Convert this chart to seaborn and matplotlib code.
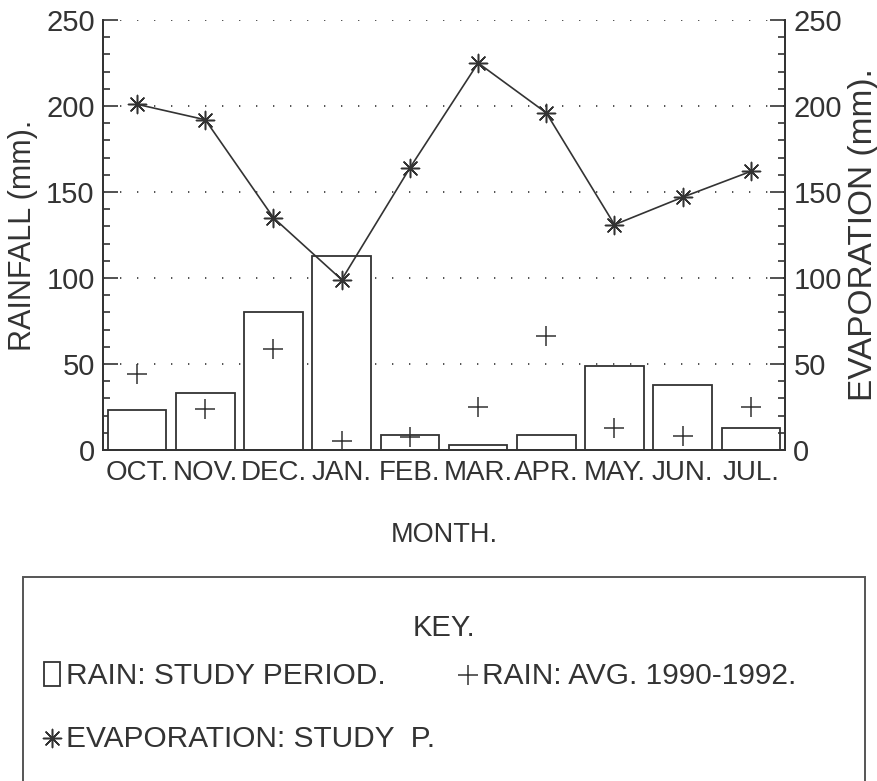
import pandas as pd
import seaborn as sns
import matplotlib.pyplot as plt
from matplotlib.ticker import MultipleLocator
from matplotlib.patches import Rectangle

# values (mm)
months = ['OCT.', 'NOV.', 'DEC.', 'JAN.', 'FEB.', 'MAR.', 'APR.', 'MAY.', 'JUN.', 'JUL.']
rain_study = [23, 33, 80, 113, 9, 3, 9, 49, 38, 13]
rain_avg = [44, 24, 59, 5, 7.5, 25, 66, 13, 8, 25]
evaporation = [201, 192, 135, 99, 164, 225, 196, 131, 147, 162]

df = pd.DataFrame({
    'month': months,
    'rain_study': rain_study,
    'rain_avg': rain_avg,
    'evaporation': evaporation,
})

sns.set_theme(style='white')
plt.rcParams['font.family'] = ['Liberation Sans', 'DejaVu Sans']
ink = '#333333'

fig = plt.figure(figsize=(8.78, 7.81), dpi=100)
ax = fig.add_axes([103 / 878, 1 - 450 / 781, 682 / 878, 430 / 781])

sns.barplot(data=df, x='month', y='rain_study', color='white', saturation=1,
            edgecolor=ink, linewidth=1.3, width=0.86, ax=ax, zorder=2)
avg_pts = sns.scatterplot(data=df, x='month', y='rain_avg', marker='+', s=210,
                          color=ink, linewidth=1.1, ax=ax, zorder=3).collections[-1]

ax2 = ax.twinx()
sns.lineplot(data=df, x='month', y='evaporation', color=ink, linewidth=1.2,
             sort=False, ax=ax2, zorder=3)
evap_pts = sns.scatterplot(data=df, x='month', y='evaporation', marker=(8, 2, 0),
                           s=170, color=ink, linewidth=1.1, ax=ax2,
                           zorder=4).collections[-1]

for a in (ax, ax2):
    a.set_ylim(0, 250)
    a.yaxis.set_major_locator(MultipleLocator(50))
    a.yaxis.set_minor_locator(MultipleLocator(10))
    a.tick_params(axis='y', which='major', direction='in', length=11, width=1.2,
                  labelsize=21, pad=6, color=ink, labelcolor=ink)
    a.tick_params(axis='y', which='minor', direction='in', length=5, width=1.2,
                  color=ink)
    a.spines['top'].set_visible(False)
    for s in a.spines.values():
        s.set_color(ink)
        s.set_linewidth(1.3)
ax.set_xlim(-0.5, 9.5)
ax.tick_params(axis='x', direction='in', length=5, width=1.2, labelsize=20,
               pad=7, color=ink, labelcolor=ink)

ax.yaxis.grid(True, which='major', linestyle=(0, (0.8, 9.4)), linewidth=1.2,
              color=ink)
ax.set_axisbelow(True)

ax.set_xlabel('MONTH.', fontsize=19.5, color=ink, labelpad=26)
ax.set_ylabel('RAINFALL (mm).', fontsize=22, color=ink, labelpad=6)
ax2.set_ylabel('EVAPORATION (mm).', fontsize=24, color=ink, labelpad=4)

# key box below the chart
fig.patches.append(Rectangle((23 / 878, -0.05), 842 / 878, 0.05 + 1 - 577 / 781,
                             transform=fig.transFigure, fill=False,
                             edgecolor='#555555', linewidth=1.4))
fig.text(444 / 878, 1 - 628 / 781, 'KEY.', fontsize=21, color=ink,
         ha='center', va='center')
fig.legend(handles=[ax.patches[0], evap_pts, avg_pts],
           labels=['RAIN: STUDY PERIOD.', 'EVAPORATION: STUDY  P.',
                   'RAIN: AVG. 1990-1992.'],
           ncol=2, loc='upper left', bbox_to_anchor=(44 / 878, 1 - 662 / 781),
           frameon=False, fontsize=21.5, labelcolor=ink, handlelength=0.55,
           handleheight=0.85, handletextpad=0.2, columnspacing=0.8,
           labelspacing=1.15, borderpad=0, borderaxespad=0)

fig.savefig('out.png', dpi=100)
